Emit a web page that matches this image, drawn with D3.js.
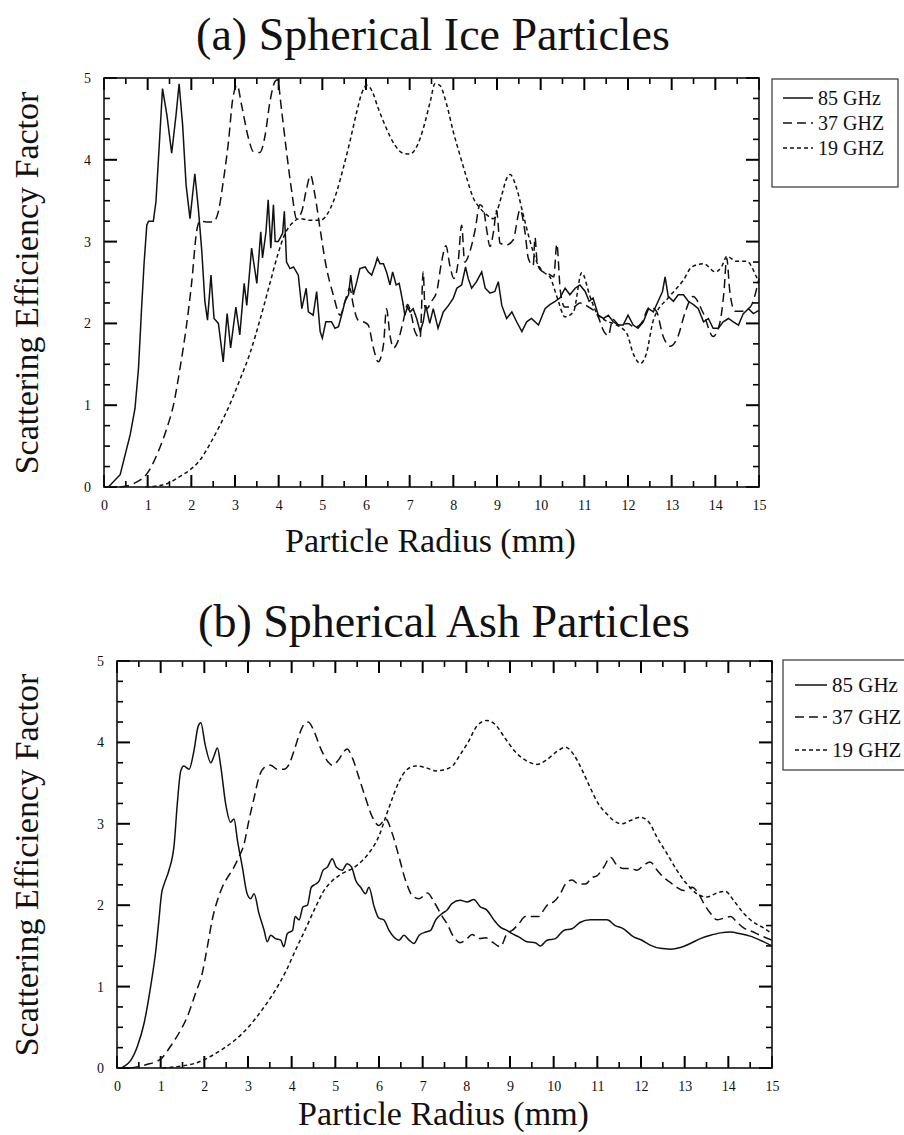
<!DOCTYPE html>
<html>
<head>
<meta charset="utf-8">
<script src="https://cdn.jsdelivr.net/npm/d3@7"></script>
<style>
  body { margin: 0; background: #fff; }
  text { font-family: "Liberation Serif", "Times New Roman", serif; fill: #111; }
</style>
</head>
<body>
<script>
// Scattering efficiency factor vs particle radius (mm)

// (a) ice, 85 GHz
const ice85 = [[0.1,0],[0.37,0.15],[0.6,0.64],[0.71,0.96],[0.79,1.45],[0.86,2.18],[0.92,2.75],[0.98,3.2],[1.02,3.25],[1.13,3.25],[1.19,3.49],[1.27,4.22],[1.34,4.87],[1.44,4.55],[1.55,4.08],[1.65,4.55],[1.72,4.93],[1.80,4.43],[1.88,3.69],[1.97,3.28],[2.08,3.83],[2.16,3.41],[2.24,2.88],[2.31,2.27],[2.37,2.04],[2.45,2.59],[2.52,2.06],[2.62,2.0],[2.73,1.53],[2.82,2.12],[2.90,1.70],[3.02,2.20],[3.11,1.86],[3.21,2.49],[3.27,2.22],[3.38,2.92],[3.50,2.49],[3.59,3.12],[3.63,2.80],[3.71,3.12],[3.76,3.51],[3.82,2.92],[3.88,3.45],[3.92,3.0],[3.99,3.0],[4.09,3.10],[4.13,3.37],[4.18,2.75],[4.26,2.67],[4.34,2.69],[4.45,2.59],[4.53,2.18],[4.63,2.43],[4.68,2.14],[4.79,2.10],[4.87,2.39],[4.95,1.90],[5.0,1.82],[5.08,2.02],[5.21,2.02],[5.29,1.94],[5.37,1.96],[5.44,2.10],[5.52,2.27],[5.60,2.35],[5.65,2.59],[5.71,2.35],[5.79,2.51],[5.86,2.67],[5.98,2.69],[6.05,2.63],[6.13,2.59],[6.21,2.71],[6.26,2.80],[6.32,2.73],[6.40,2.73],[6.47,2.63],[6.55,2.47],[6.61,2.63],[6.69,2.47],[6.76,2.49],[6.84,2.27],[6.89,2.10],[6.95,2.20],[7.01,2.14],[7.08,2.18],[7.16,2.06],[7.24,1.90],[7.31,2.02],[7.37,2.22],[7.46,2.0],[7.54,2.18],[7.65,1.94],[7.77,2.14],[7.89,2.22],[8.0,2.31],[8.08,2.43],[8.19,2.47],[8.28,2.69],[8.34,2.55],[8.42,2.43],[8.53,2.51],[8.65,2.63],[8.73,2.43],[8.84,2.37],[8.95,2.39],[9.03,2.51],[9.11,2.22],[9.22,2.06],[9.34,2.14],[9.45,2.02],[9.57,1.90],[9.68,2.02],[9.79,2.06],[9.95,1.98],[10.1,2.18],[10.21,2.23],[10.33,2.27],[10.44,2.31],[10.56,2.43],[10.67,2.35],[10.79,2.43],[10.9,2.47],[11.02,2.39],[11.11,2.27],[11.2,2.31],[11.32,2.10],[11.44,2.06],[11.55,2.10],[11.66,2.02],[11.78,1.98],[11.89,1.98],[12.0,2.10],[12.12,1.98],[12.23,1.94],[12.35,2.02],[12.47,2.18],[12.58,2.14],[12.69,2.27],[12.79,2.39],[12.85,2.57],[12.92,2.33],[13.04,2.27],[13.15,2.35],[13.27,2.35],[13.38,2.27],[13.5,2.23],[13.61,2.18],[13.73,2.02],[13.84,2.06],[13.95,1.94],[14.07,1.94],[14.18,2.02],[14.30,2.06],[14.41,2.02],[14.53,1.98],[14.64,2.12],[14.76,2.18],[14.87,2.12],[15.0,2.16]];

// (a) ice, 37 GHz
const ice37 = [[0.37,0],[0.67,0.04],[1.02,0.19],[1.24,0.43],[1.44,0.72],[1.59,1.0],[1.74,1.45],[1.88,1.94],[2.01,2.51],[2.12,3.12],[2.2,3.25],[2.35,3.24],[2.5,3.24],[2.62,3.37],[2.73,3.73],[2.85,4.22],[2.95,4.75],[3.05,4.91],[3.15,4.67],[3.31,4.26],[3.42,4.10],[3.57,4.09],[3.69,4.30],[3.8,4.71],[3.92,4.96],[3.97,4.98],[4.07,4.59],[4.18,4.10],[4.30,3.61],[4.41,3.28],[4.53,3.37],[4.64,3.65],[4.73,3.81],[4.83,3.57],[4.95,3.15],[5.08,2.72],[5.25,2.35],[5.41,2.10],[5.52,2.27],[5.63,2.43],[5.71,2.22],[5.82,2.04],[5.94,2.02],[6.05,1.98],[6.17,1.70],[6.28,1.53],[6.4,1.74],[6.47,2.18],[6.55,1.85],[6.63,1.70],[6.73,1.78],[6.85,2.02],[6.95,2.23],[7.04,2.10],[7.12,1.90],[7.24,1.82],[7.31,2.63],[7.35,2.2],[7.39,2.18],[7.5,2.27],[7.62,2.39],[7.73,2.75],[7.83,2.95],[7.92,2.71],[8.01,2.55],[8.11,2.75],[8.19,3.20],[8.26,2.75],[8.38,2.88],[8.49,3.12],[8.61,3.45],[8.69,3.40],[8.76,3.16],[8.84,2.94],[8.92,3.12],[8.99,3.38],[9.07,2.98],[9.22,2.96],[9.37,3.02],[9.53,3.39],[9.64,3.12],[9.72,2.79],[9.83,2.71],[9.87,3.05],[9.92,2.75],[10.0,2.65],[10.2,2.6],[10.3,2.57],[10.37,2.97],[10.45,2.4],[10.55,2.2],[10.75,2.2],[10.9,2.25],[11.1,2.2],[11.3,2.1],[11.45,1.9],[11.55,1.85],[11.65,2.05],[11.8,1.98],[12.0,2.0],[12.15,1.95],[12.3,2.0],[12.5,2.2],[12.65,2.15],[12.8,1.85],[12.96,1.72],[13.15,1.85],[13.3,2.12],[13.49,2.33],[13.72,2.13],[13.95,1.84],[14.1,2.0],[14.2,2.4],[14.26,2.8],[14.33,2.4],[14.45,2.15],[14.6,2.15],[14.8,2.2],[15.0,2.55]];

// (a) ice, 19 GHz
const ice19 = [[0.95,0],[1.17,0.01],[1.44,0.04],[1.74,0.13],[1.97,0.21],[2.2,0.33],[2.43,0.53],[2.66,0.76],[2.89,1.02],[3.11,1.31],[3.34,1.63],[3.57,2.04],[3.8,2.49],[3.99,2.86],[4.15,3.10],[4.3,3.22],[4.49,3.28],[4.72,3.26],[4.95,3.26],[5.18,3.40],[5.33,3.61],[5.48,3.9],[5.63,4.22],[5.79,4.59],[5.9,4.81],[6.02,4.91],[6.13,4.85],[6.28,4.63],[6.47,4.38],[6.66,4.18],[6.85,4.08],[7.0,4.07],[7.16,4.16],[7.31,4.38],[7.47,4.71],[7.58,4.93],[7.69,4.91],[7.85,4.67],[8.0,4.34],[8.15,4.06],[8.31,3.77],[8.46,3.53],[8.61,3.41],[8.76,3.33],[8.92,3.28],[9.0,3.37],[9.11,3.57],[9.22,3.77],[9.3,3.82],[9.45,3.65],[9.6,3.33],[9.76,3.0],[9.91,2.75],[10.06,2.63],[10.21,2.57],[10.37,2.33],[10.56,2.08],[10.75,2.14],[10.94,2.62],[11.13,2.33],[11.28,2.13],[11.47,2.04],[11.74,1.98],[11.97,1.88],[12.12,1.63],[12.29,1.51],[12.42,1.63],[12.58,2.04],[12.66,2.14],[12.9,2.3],[13.1,2.42],[13.27,2.53],[13.46,2.69],[13.73,2.73],[14.0,2.63],[14.15,2.7],[14.26,2.82],[14.49,2.76],[14.72,2.76],[14.94,2.57],[15.0,2.5]];

// (b) ash, 85 GHz
const ash85 = [[0.1,0],[0.16,0.02],[0.31,0.09],[0.47,0.27],[0.62,0.55],[0.77,1.0],[0.89,1.45],[0.96,1.82],[1.02,2.14],[1.08,2.26],[1.19,2.43],[1.31,2.75],[1.38,3.24],[1.46,3.65],[1.53,3.71],[1.65,3.67],[1.76,3.89],[1.86,4.20],[1.92,4.24],[2.02,3.97],[2.15,3.75],[2.22,3.83],[2.3,3.93],[2.37,3.73],[2.49,3.24],[2.6,3.02],[2.68,3.06],[2.76,2.79],[2.87,2.47],[2.98,2.14],[3.06,2.08],[3.14,2.14],[3.25,1.90],[3.37,1.69],[3.44,1.55],[3.52,1.63],[3.63,1.59],[3.75,1.57],[3.82,1.49],[3.9,1.65],[4.02,1.69],[4.08,1.86],[4.17,1.82],[4.26,1.98],[4.36,2.0],[4.45,2.22],[4.55,2.26],[4.63,2.30],[4.72,2.43],[4.82,2.47],[4.93,2.57],[5.02,2.47],[5.16,2.43],[5.27,2.51],[5.37,2.47],[5.47,2.30],[5.58,2.22],[5.69,2.14],[5.77,2.22],[5.89,1.98],[6.0,1.84],[6.11,1.82],[6.23,1.69],[6.34,1.61],[6.46,1.57],[6.57,1.63],[6.69,1.57],[6.8,1.53],[6.92,1.63],[7.07,1.67],[7.18,1.69],[7.3,1.82],[7.45,1.90],[7.56,1.94],[7.67,2.02],[7.86,2.06],[8.02,2.04],[8.17,2.07],[8.32,1.98],[8.47,1.94],[8.63,1.82],[8.78,1.73],[8.93,1.69],[9.05,1.65],[9.2,1.61],[9.39,1.55],[9.58,1.54],[9.69,1.50],[9.85,1.57],[10.04,1.59],[10.23,1.69],[10.42,1.71],[10.61,1.79],[10.84,1.82],[11.03,1.82],[11.22,1.82],[11.41,1.75],[11.6,1.71],[11.83,1.61],[12.02,1.57],[12.21,1.51],[12.44,1.47],[12.67,1.46],[12.9,1.48],[13.13,1.53],[13.36,1.59],[13.59,1.63],[13.82,1.66],[14.05,1.67],[14.27,1.65],[14.5,1.62],[14.73,1.57],[15.0,1.5]];

// (b) ash, 37 GHz
const ash37 = [[0.31,0],[0.66,0.04],[1.0,0.11],[1.23,0.27],[1.42,0.43],[1.61,0.63],[1.8,0.92],[1.95,1.16],[2.07,1.49],[2.18,1.82],[2.3,2.06],[2.41,2.22],[2.53,2.34],[2.64,2.43],[2.79,2.59],[2.91,2.75],[3.02,3.04],[3.14,3.32],[3.25,3.57],[3.37,3.69],[3.52,3.72],[3.67,3.67],[3.82,3.67],[3.94,3.73],[4.05,3.89],[4.17,4.09],[4.28,4.22],[4.38,4.25],[4.51,4.14],[4.66,3.93],[4.82,3.77],[4.93,3.72],[5.08,3.79],[5.2,3.89],[5.27,3.92],[5.39,3.81],[5.54,3.57],[5.69,3.32],[5.85,3.08],[6.0,2.98],[6.15,3.06],[6.31,2.87],[6.46,2.59],[6.61,2.30],[6.76,2.12],[6.92,2.08],[7.11,2.15],[7.26,2.04],[7.45,1.86],[7.56,1.77],[7.71,1.61],[7.86,1.54],[8.02,1.59],[8.13,1.64],[8.29,1.59],[8.44,1.60],[8.59,1.55],[8.78,1.49],[8.93,1.65],[9.05,1.69],[9.2,1.77],[9.35,1.86],[9.5,1.86],[9.66,1.86],[9.77,1.94],[9.89,2.02],[10.0,2.04],[10.15,2.14],[10.27,2.26],[10.42,2.31],[10.57,2.26],[10.73,2.26],[10.88,2.34],[10.99,2.36],[11.15,2.47],[11.3,2.59],[11.45,2.49],[11.6,2.45],[11.76,2.45],[11.91,2.43],[12.06,2.49],[12.21,2.53],[12.37,2.43],[12.52,2.34],[12.67,2.28],[12.82,2.22],[12.98,2.18],[13.17,2.22],[13.32,2.14],[13.44,2.02],[13.59,1.90],[13.74,1.82],[13.89,1.84],[14.05,1.86],[14.2,1.79],[14.35,1.72],[14.53,1.68],[14.73,1.63],[15.0,1.57]];

// (b) ash, 19 GHz
const ash19 = [[1.04,0],[1.42,0.02],[1.8,0.06],[2.1,0.13],[2.41,0.23],[2.72,0.35],[3.02,0.51],[3.33,0.72],[3.63,0.96],[3.86,1.18],[4.09,1.45],[4.32,1.71],[4.55,1.98],[4.74,2.18],[4.93,2.30],[5.16,2.39],[5.39,2.45],[5.62,2.55],[5.81,2.67],[6.0,2.85],[6.15,3.08],[6.31,3.32],[6.46,3.52],[6.61,3.65],[6.84,3.71],[7.07,3.69],[7.3,3.65],[7.53,3.67],[7.7,3.72],[7.86,3.85],[8.05,4.01],[8.24,4.20],[8.47,4.27],[8.66,4.22],[8.89,4.05],[9.11,3.89],[9.39,3.77],[9.62,3.73],[9.85,3.79],[10.08,3.89],[10.27,3.94],[10.46,3.85],[10.66,3.65],[10.84,3.44],[11.03,3.24],[11.22,3.12],[11.37,3.04],[11.56,3.0],[11.76,3.04],[11.98,3.08],[12.18,3.02],[12.37,2.83],[12.6,2.63],[12.82,2.43],[13.05,2.26],[13.28,2.14],[13.51,2.10],[13.74,2.15],[13.93,2.17],[14.12,2.06],[14.35,1.90],[14.58,1.79],[14.81,1.72],[15.0,1.65]];

const legendLabels = ["85 GHz", "37 GHZ", "19 GHZ"];
const xTicks = d3.range(0, 16);
const yTicks = [0, 1, 2, 3, 4, 5];
const xMinor = d3.range(0.5, 15, 1);
const yMinor = d3.range(0.25, 5, 0.25).filter(v => v % 1 !== 0);

const width = 904, height = 1135;
const dashes = [null, "9,5", "4,3"];

const svg = d3.select("body").append("svg")
  .attr("width", width)
  .attr("height", height);

const panels = [
  { title: "(a) Spherical Ice Particles", tx: 433, ty: 50,
    left: 104, right: 759, top: 78, bottom: 487,
    series: [ice85, ice37, ice19], noisy: true,
    xlabY: 552, ylabY: 283,
    leg: { x: 772, y: 79, w: 126, h: 108, rows: [98, 123, 148], lx: 783, lw: 30, fs: 20 } },
  { title: "(b) Spherical Ash Particles", tx: 444, ty: 637,
    left: 117, right: 772, top: 661, bottom: 1068,
    series: [ash85, ash37, ash19], noisy: false,
    xlabY: 1125, ylabY: 865,
    leg: { x: 783, y: 660, w: 130, h: 110, rows: [685, 717, 750], lx: 795, lw: 32, fs: 21 } }
];

panels.forEach(p => {
  const g = svg.append("g");

  const x = d3.scaleLinear().domain([0, 15]).range([p.left, p.right]);
  const y = d3.scaleLinear().domain([0, 5]).range([p.bottom, p.top]);

  // title
  g.append("text")
    .attr("x", p.tx).attr("y", p.ty)
    .attr("text-anchor", "middle")
    .style("font-size", "46px")
    .text(p.title);

  // tick labels from the axes
  const xAxis = g.append("g")
    .attr("transform", `translate(0,${p.bottom})`)
    .call(d3.axisBottom(x).tickValues(xTicks).tickSize(0).tickPadding(13).tickFormat(d3.format("d")));
  const yAxis = g.append("g")
    .attr("transform", `translate(${p.left},0)`)
    .call(d3.axisLeft(y).tickValues(yTicks).tickSize(0).tickPadding(13).tickFormat(d3.format("d")));
  [xAxis, yAxis].forEach(a => {
    a.select(".domain").remove();
    a.selectAll("line").remove();
    a.selectAll("text")
      .style("font-size", "14px")
      .style("font-family", "'Liberation Serif', serif")
      .attr("fill", "#111");
  });

  // inward tick marks on all four sides
  const ticks = g.append("g");
  const xt = xTicks.map(v => ({ v, len: 12, w: 2 })).concat(xMinor.map(v => ({ v, len: 6, w: 1.6 })));
  const yt = yTicks.map(v => ({ v, len: 13, w: 2 })).concat(yMinor.map(v => ({ v, len: 6, w: 1.6 })));
  const sides = [
    { cls: "xb", data: xt, f: d => [x(d.v), p.bottom, x(d.v), p.bottom - d.len] },
    { cls: "xt", data: xt, f: d => [x(d.v), p.top, x(d.v), p.top + d.len] },
    { cls: "yl", data: yt, f: d => [p.left, y(d.v), p.left + d.len, y(d.v)] },
    { cls: "yr", data: yt, f: d => [p.right, y(d.v), p.right - d.len, y(d.v)] }
  ];
  sides.forEach(s => {
    ticks.selectAll("line." + s.cls).data(s.data).join("line")
      .attr("class", s.cls)
      .attr("x1", d => s.f(d)[0]).attr("y1", d => s.f(d)[1])
      .attr("x2", d => s.f(d)[2]).attr("y2", d => s.f(d)[3])
      .style("stroke", "#000")
      .style("stroke-width", d => d.w);
  });

  // frame
  g.append("rect")
    .attr("x", p.left).attr("y", p.top)
    .attr("width", p.right - p.left).attr("height", p.bottom - p.top)
    .attr("fill", "none").attr("stroke", "#111").attr("stroke-width", 1.6);

  // curves
  p.series.forEach((s, i) => {
    const line = d3.line()
      .x(d => x(d[0])).y(d => y(d[1]))
      .curve(p.noisy && i === 0 ? d3.curveLinear : d3.curveMonotoneX);
    g.append("path")
      .datum(s)
      .attr("d", line)
      .attr("fill", "none")
      .attr("stroke", "#111")
      .attr("stroke-width", 1.5)
      .attr("stroke-dasharray", dashes[i]);
  });

  // axis titles
  g.append("text")
    .attr("x", (p.left + p.right) / 2 - 1).attr("y", p.xlabY)
    .attr("text-anchor", "middle")
    .style("font-size", "34px")
    .text("Particle Radius (mm)");

  g.append("text")
    .attr("transform", `translate(38,${p.ylabY}) rotate(-90)`)
    .attr("text-anchor", "middle")
    .style("font-size", "34px")
    .text("Scattering Efficiency Factor");

  // legend
  const L = p.leg;
  g.append("rect")
    .attr("x", L.x).attr("y", L.y).attr("width", L.w).attr("height", L.h)
    .attr("fill", "none").attr("stroke", "#333").attr("stroke-width", 1.2);
  legendLabels.forEach((lab, i) => {
    g.append("line")
      .attr("x1", L.lx).attr("x2", L.lx + L.lw)
      .attr("y1", L.rows[i]).attr("y2", L.rows[i])
      .attr("stroke", "#111").attr("stroke-width", 1.5)
      .attr("stroke-dasharray", dashes[i]);
    g.append("text")
      .attr("x", L.lx + L.lw + 5).attr("y", L.rows[i])
      .attr("dy", "0.35em")
      .style("font-size", L.fs + "px")
      .text(lab);
  });
});
</script>
</body>
</html>
